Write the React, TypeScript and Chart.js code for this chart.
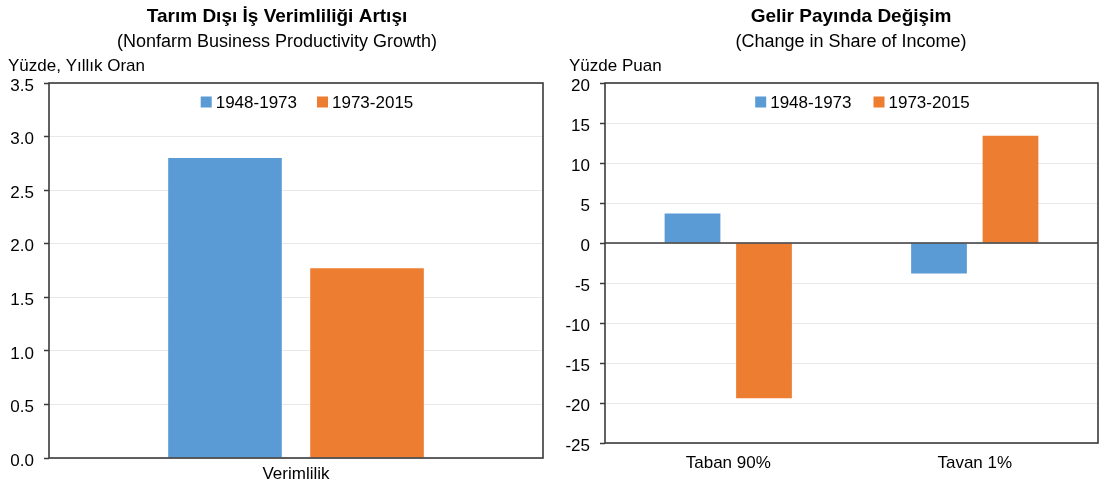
import { useEffect, useRef } from 'react';
import { Chart, registerables } from 'chart.js';

Chart.register(...registerables);

// ---- data ----
const seriesLabels = ['1948-1973', '1973-2015'];
const seriesColors = ['#5B9BD5', '#ED7D31'];

const leftCategories = ['Verimlilik'];
const leftSeries1948 = [2.8];
const leftSeries1973 = [1.77];
const leftTickMin = 0;
const leftTickMax = 3.5;
const leftTickStep = 0.5;

const rightCategories = ['Taban 90%', 'Tavan 1%'];
const rightSeries1948 = [3.7, -3.8];
const rightSeries1973 = [-19.4, 13.4];
const rightTickMin = -25;
const rightTickMax = 20;
const rightTickStep = 5;

const leftHeader = {
  title: 'Tarım Dışı İş Verimliliği Artışı',
  subtitle: '(Nonfarm Business Productivity Growth)',
  unit: 'Yüzde, Yıllık Oran',
};
const rightHeader = {
  title: 'Gelir Payında Değişim',
  subtitle: '(Change in Share of Income)',
  unit: 'Yüzde Puan',
};

const TEXT_FONT = '"Liberation Sans", Arial, sans-serif';
const TITLE_FONT = '"Liberation Sans", Arial, sans-serif';
const FRAME = '#3a3a3a';

const overlayPlugin = {
  id: 'overlay',
  afterDatasetsDraw(chart: any) {
    const { ctx, chartArea: ca } = chart;
    const y = chart.scales.y;
    if (y.min < 0 && y.max > 0) {
      const py = y.getPixelForValue(0);
      ctx.save();
      ctx.strokeStyle = FRAME;
      ctx.lineWidth = 1.5;
      ctx.beginPath();
      ctx.moveTo(ca.left, py);
      ctx.lineTo(ca.right, py);
      ctx.stroke();
      ctx.restore();
    }
  },
  afterDraw(chart: any, _args: any, opts: any) {
    const { ctx, chartArea: ca } = chart;
    ctx.save();
    // frame
    ctx.strokeStyle = FRAME;
    ctx.lineWidth = 1.6;
    ctx.strokeRect(ca.left, ca.top, ca.right - ca.left, ca.bottom - ca.top);

    // legend inside plot area
    ctx.font = '17px ' + TEXT_FONT;
    ctx.textBaseline = 'middle';
    ctx.textAlign = 'left';
    const box = 11;
    const gapText = 4;
    const gapItem = opts.legendGap;
    const items = chart.data.datasets.map((d: any) => ({
      label: d.label,
      color: d.backgroundColor,
      w: ctx.measureText(d.label).width,
    }));
    let total = 0;
    items.forEach((it: any, i: number) => {
      total += box + gapText + it.w + (i < items.length - 1 ? gapItem : 0);
    });
    let x = (ca.left + ca.right) / 2 + opts.legendShift - total / 2;
    const ly = ca.top + opts.legendDy;
    items.forEach((it: any) => {
      ctx.fillStyle = it.color;
      ctx.fillRect(x, ly - box / 2, box, box);
      x += box + gapText;
      ctx.fillStyle = '#000';
      ctx.fillText(it.label, x, ly + 1);
      x += it.w + gapItem;
    });

    // headers
    ctx.fillStyle = '#000';
    ctx.textAlign = 'center';
    ctx.font = 'bold 19px ' + TITLE_FONT;
    ctx.fillText(opts.title, opts.titleX, 17);
    ctx.font = '18px ' + TITLE_FONT;
    ctx.fillText(opts.subtitle, opts.titleX, 42);
    ctx.textAlign = 'left';
    ctx.font = '17px ' + TEXT_FONT;
    ctx.fillText(opts.unit, opts.unitX, 66);
    ctx.restore();
  },
};

function makeConfig(p: {
  categories: string[];
  a: number[];
  b: number[];
  min: number;
  max: number;
  step: number;
  decimals: number;
  yWidth: number;
  xHeight: number;
  padRight: number;
  xPad: number;
  catPct: number;
  barPct: number;
  header: { title: string; subtitle: string; unit: string };
  titleX: number;
  unitX: number;
  legendShift: number;
  legendGap: number;
}): any {
  return {
    type: 'bar',
    data: {
      labels: p.categories,
      datasets: [
        { label: seriesLabels[0], data: p.a, backgroundColor: seriesColors[0], borderWidth: 0 },
        { label: seriesLabels[1], data: p.b, backgroundColor: seriesColors[1], borderWidth: 0 },
      ],
    },
    options: {
      responsive: false,
      animation: false,
      events: [],
      categoryPercentage: p.catPct,
      barPercentage: p.barPct,
      layout: { padding: { top: 83, right: p.padRight, left: 0, bottom: 0 } },
      plugins: {
        legend: { display: false },
        tooltip: { enabled: false },
        title: { display: false },
        overlay: {
          title: p.header.title,
          subtitle: p.header.subtitle,
          unit: p.header.unit,
          titleX: p.titleX,
          unitX: p.unitX,
          legendShift: p.legendShift,
          legendGap: p.legendGap,
          legendDy: 19,
        },
      },
      scales: {
        x: {
          grid: { display: false, drawTicks: false },
          border: { display: false },
          ticks: {
            color: '#000',
            padding: p.xPad,
            font: { family: TEXT_FONT, size: 17 },
          },
          afterFit: (s: any) => {
            s.height = p.xHeight;
          },
        },
        y: {
          min: p.min,
          max: p.max,
          border: { display: false },
          grid: {
            color: '#e8e8e8',
            lineWidth: 1,
            drawTicks: true,
            tickLength: 5,
            tickColor: FRAME,
            tickWidth: 1.5,
          },
          ticks: {
            stepSize: p.step,
            color: '#000',
            padding: 10,
            labelOffset: 3,
            font: { family: TEXT_FONT, size: 17 },
            callback: (v: any) => Number(v).toFixed(p.decimals),
          },
          afterFit: (s: any) => {
            s.width = p.yWidth;
          },
        },
      },
    },
    plugins: [overlayPlugin],
  };
}

export default function App() {
  const leftRef = useRef<HTMLCanvasElement>(null);
  const rightRef = useRef<HTMLCanvasElement>(null);

  useEffect(() => {
    const left = new Chart(
      leftRef.current as HTMLCanvasElement,
      makeConfig({
        categories: leftCategories,
        a: leftSeries1948,
        b: leftSeries1973,
        min: leftTickMin,
        max: leftTickMax,
        step: leftTickStep,
        decimals: 1,
        yWidth: 49,
        xHeight: 29,
        padRight: 9,
        xPad: 6,
        catPct: 0.575,
        barPct: 0.8,
        header: leftHeader,
        titleX: 277,
        unitX: 8,
        legendShift: 11,
        legendGap: 20,
      })
    );
    const right = new Chart(
      rightRef.current as HTMLCanvasElement,
      makeConfig({
        categories: rightCategories,
        a: rightSeries1948,
        b: rightSeries1973,
        min: rightTickMin,
        max: rightTickMax,
        step: rightTickStep,
        decimals: 0,
        yWidth: 53,
        xHeight: 44,
        padRight: 7,
        xPad: 10,
        catPct: 0.58,
        barPct: 0.78,
        header: rightHeader,
        titleX: 851 - 552,
        unitX: 569 - 552,
        legendShift: 11,
        legendGap: 22,
      })
    );
    return () => {
      left.destroy();
      right.destroy();
    };
  }, []);

  return (
    <div style={{ position: 'absolute', left: 0, top: 0, width: 1105, height: 487, background: '#fff' }}>
      <canvas ref={leftRef} width={552} height={487} style={{ position: 'absolute', left: 0, top: 0 }} />
      <canvas ref={rightRef} width={553} height={487} style={{ position: 'absolute', left: 552, top: 0 }} />
    </div>
  );
}
